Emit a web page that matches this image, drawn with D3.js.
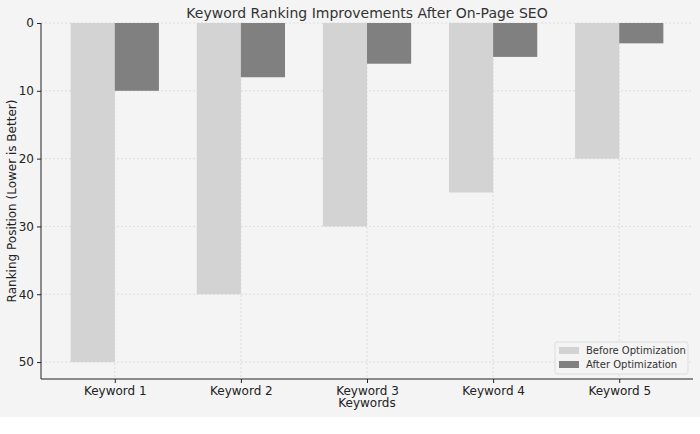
<!DOCTYPE html><html><head><meta charset="utf-8"><script src="https://cdn.jsdelivr.net/npm/d3@7"></script>
<style>body{margin:0;background:#fff}text{font-family:"DejaVu Sans",sans-serif}</style></head><body><svg id="c" width="700" height="434"></svg><script>
const categories=["Keyword 1","Keyword 2","Keyword 3","Keyword 4","Keyword 5"];
const before=[50,40,30,25,20];
const after=[10,8,6,5,3];
const yTicks=[0,10,20,30,40,50];
const svg=d3.select("#c");
svg.append("rect").attr("width",700).attr("height",434).attr("fill","#fff");
svg.append("rect").attr("width",700).attr("height",417).attr("fill","#f4f4f4");
const L=41,R=693,T=23,B=379;
const x=d3.scaleLinear().domain([-0.585,4.585]).range([L,R]);
const y=d3.scaleLinear().domain([0,52.5]).range([T,B]);
const g=svg.append("g");
g.selectAll(".gy").data(yTicks).join("line").attr("x1",L).attr("x2",R).attr("y1",d=>y(d)).attr("y2",d=>y(d)).attr("stroke","#ccc").attr("stroke-dasharray","2,2").attr("stroke-width",0.6);
g.selectAll(".gx").data(categories).join("line").attr("x1",(d,i)=>x(i)).attr("x2",(d,i)=>x(i)).attr("y1",T).attr("y2",B).attr("stroke","#ccc").attr("stroke-dasharray","2,2").attr("stroke-width",0.6);
const w=x(0.35)-x(0);
g.selectAll(".b").data(before).join("rect").attr("x",(d,i)=>x(i-0.35)).attr("y",y(0)).attr("width",w).attr("height",d=>y(d)-y(0)).attr("fill","#d3d3d3");
g.selectAll(".a").data(after).join("rect").attr("x",(d,i)=>x(i)).attr("y",y(0)).attr("width",w).attr("height",d=>y(d)-y(0)).attr("fill","#808080");
const ya=svg.append("g").attr("transform",`translate(${L},0)`).call(d3.axisLeft(y).tickValues(yTicks).tickSize(4).tickSizeOuter(0));
const xa=svg.append("g").attr("transform",`translate(0,${B})`).call(d3.axisBottom(x).tickValues([0,1,2,3,4]).tickFormat(i=>categories[i]).tickSize(4).tickSizeOuter(0));
[ya,xa].forEach(a=>{a.selectAll("text").attr("font-size",12).attr("fill","#222");a.select(".domain").attr("stroke","#222");a.selectAll(".tick line").attr("stroke","#222");});
xa.select(".domain").attr("d",`M${L},0H${R}`);
ya.select(".domain").attr("d",`M0,${T}V${B}`);
svg.append("text").attr("x",(L+R)/2).attr("y",18).attr("text-anchor","middle").attr("font-size",14).attr("fill","#333").text("Keyword Ranking Improvements After On-Page SEO");
svg.append("text").attr("x",(L+R)/2).attr("y",407).attr("text-anchor","middle").attr("font-size",12).attr("fill","#222").text("Keywords");
svg.append("text").attr("transform",`translate(16,${(T+B)/2}) rotate(-90)`).attr("text-anchor","middle").attr("font-size",12).attr("fill","#222").text("Ranking Position (Lower is Better)");
const lg=svg.append("g").attr("transform","translate(555,342)");
lg.append("rect").attr("width",133).attr("height",32).attr("rx",2).attr("fill","#f4f4f4").attr("stroke","#ddd");
[["Before Optimization","#d3d3d3"],["After Optimization","#808080"]].forEach((d,i)=>{
lg.append("rect").attr("x",4).attr("y",5+i*14).attr("width",20).attr("height",7).attr("fill",d[1]);
lg.append("text").attr("x",31).attr("y",12+i*14).attr("font-size",10).attr("fill","#333").text(d[0]);});
</script></body></html>
